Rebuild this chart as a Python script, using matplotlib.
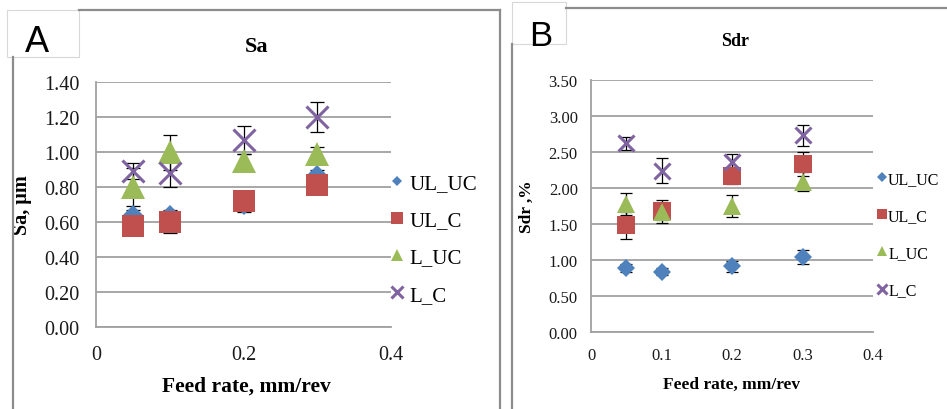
import numpy as np
import matplotlib
matplotlib.use("Agg")
import matplotlib.pyplot as plt
from matplotlib.lines import Line2D
from matplotlib.patches import Rectangle

# ---- data ----
feed = [0.05, 0.1, 0.2, 0.3]
series = ["UL_UC", "UL_C", "L_UC", "L_C"]

sa_vals = {
    "UL_UC": [0.64, 0.64, 0.70, 0.87],
    "UL_C": [0.58, 0.60, 0.72, 0.81],
    "L_UC": [0.80, 1.00, 0.95, 0.99],
    "L_C": [0.89, 0.88, 1.07, 1.20],
}
sa_err = {
    "UL_UC": [0.03, 0.03, 0.04, 0.03],
    "UL_C": [0.03, 0.06, 0.05, 0.03],
    "L_UC": [0.11, 0.10, 0.04, 0.04],
    "L_C": [0.045, 0.08, 0.08, 0.085],
}

sdr_vals = {
    "UL_UC": [0.89, 0.84, 0.91, 1.04],
    "UL_C": [1.48, 1.68, 2.17, 2.33],
    "L_UC": [1.78, 1.67, 1.75, 2.09],
    "L_C": [2.62, 2.24, 2.36, 2.73],
}
sdr_err = {
    "UL_UC": [0.05, 0.05, 0.07, 0.10],
    "UL_C": [0.19, 0.16, 0.12, 0.17],
    "L_UC": [0.15, 0.12, 0.15, 0.13],
    "L_C": [0.09, 0.17, 0.11, 0.15],
}

colors = {"UL_UC": "#4F81BD", "UL_C": "#C0504D", "L_UC": "#9BBB59", "L_C": "#8064A2"}
markers = {"UL_UC": "D", "UL_C": "s", "L_UC": "^", "L_C": "x"}

W, H = 947, 410
SERIF = "Liberation Serif"
SANS = "Liberation Sans"
GRID = "#A0A0A0"
FRAME = "#8C8C8C"


def box(l, t, r, b):
    return [l / W, 1 - b / H, (r - l) / W, (b - t) / H]


def fline(xs, ys, **kw):
    fig.add_artist(Line2D([x / W for x in xs], [1 - y / H for y in ys],
                          transform=fig.transFigure, **kw))


def draw_panel(ax, vals, errs, ms, ymax, ystep, xticks, fs):
    for i, s in enumerate(series):
        ax.errorbar(feed, vals[s], yerr=errs[s], fmt="none", ecolor="black",
                    elinewidth=0.9, capsize=fs["cap"], capthick=0.9, zorder=2.5)
        mew = 2.2 if markers[s] == "x" else 0
        ax.plot(feed, vals[s], linestyle="none", marker=markers[s],
                color=colors[s], ms=ms[s], mew=mew, label=s, zorder=3 + i)
    ax.set_xlim(0, 0.4)
    ax.set_ylim(0, ymax)
    ax.set_yticks(np.arange(0, ymax + 1e-9, ystep))
    ax.set_yticklabels(["%.2f" % v for v in np.arange(0, ymax + 1e-9, ystep)],
                       family=SERIF, fontsize=fs["tick"])
    ax.set_xticks(xticks)
    ax.set_xticklabels(["0" if v == 0 else "%g" % v for v in xticks],
                       family=SERIF, fontsize=fs["tick"])
    ax.tick_params(length=0, colors="#1a1a1a")
    ax.tick_params(axis="y", pad=fs["ypad"])
    ax.tick_params(axis="x", pad=fs["xpad"])
    ax.grid(axis="y", color=GRID, lw=1.3)
    ax.set_axisbelow(True)
    for sp in ["top", "right"]:
        ax.spines[sp].set_visible(False)
    for sp in ["left", "bottom"]:
        ax.spines[sp].set_color(GRID)
        ax.spines[sp].set_linewidth(1.3)


fig = plt.figure(figsize=(W / 100, H / 100), dpi=100)
fig.patch.set_facecolor("white")

# ---- panel A ----
axA = fig.add_axes(box(96, 83, 391, 328))
draw_panel(axA, sa_vals, sa_err,
           {"UL_UC": 10, "UL_C": 16, "L_UC": 17, "L_C": 15.5},
           1.4, 0.2, [0, 0.2, 0.4],
           {"tick": 14.5, "ypad": 12, "xpad": 13, "cap": 5})
axA.set_xlabel("Feed rate, mm/rev", family=SERIF, fontsize=15.5, fontweight="bold")
axA.xaxis.set_label_coords(0.51, -0.20)
axA.set_ylabel("Sa, µm", family=SERIF, fontsize=14.5, fontweight="bold")
axA.yaxis.set_label_coords(-0.217, 0.5)
fig.text(257 / W, 1 - 47 / H, "Sa", family=SERIF, fontsize=16, fontweight="bold",
         ha="center", va="center")
axA.legend(loc="center left", bbox_to_anchor=(378 / W, 1 - 240 / H),
           bbox_transform=fig.transFigure, frameon=False, borderpad=0,
           handlelength=0.8, handletextpad=0.2, labelspacing=0.85,
           markerscale=0.55, prop={"family": SERIF, "size": 15})

# ---- panel B ----
axB = fig.add_axes(box(591, 81, 873, 333))
draw_panel(axB, sdr_vals, sdr_err,
           {"UL_UC": 9, "UL_C": 12.5, "L_UC": 13, "L_C": 12},
           3.5, 0.5, [0, 0.1, 0.2, 0.3, 0.4],
           {"tick": 12, "ypad": 9.5, "xpad": 11, "cap": 4.5})
axB.set_xlabel("Feed rate, mm/rev", family=SERIF, fontsize=12.5, fontweight="bold")
axB.xaxis.set_label_coords(0.5, -0.175)
axB.set_ylabel("Sdr ,%", family=SERIF, fontsize=12.5, fontweight="bold")
axB.yaxis.set_label_coords(-0.199, 0.5)
fig.text(735 / W, 1 - 42 / H, "Sdr", family=SERIF, fontsize=13, fontweight="bold",
         ha="center", va="center")
axB.legend(loc="center left", bbox_to_anchor=(869 / W, 1 - 235.5 / H),
           bbox_transform=fig.transFigure, frameon=False, borderpad=0,
           handlelength=0.6, handletextpad=0.1, labelspacing=1.32,
           markerscale=0.6, prop={"family": SERIF, "size": 11.5})

# ---- panel frames and letter boxes ----
fline([13, 13], [58, 410], color=FRAME, lw=1.6)
fline([79, 500], [11, 11], color=FRAME, lw=1.6)
fline([500, 500], [11, 410], color=FRAME, lw=1.6)
fig.add_artist(Rectangle((7 / W, 1 - 58 / H), 72 / W, 47 / H, transform=fig.transFigure,
                         facecolor="white", edgecolor="#D8D8D8", lw=0.8))
fig.text(37 / W, 1 - 43 / H, "A", family=SANS, fontsize=26, ha="center", va="center")

fline([512, 512], [45, 410], color=FRAME, lw=1.6)
fline([566, 947], [9, 9], color=FRAME, lw=1.6)
fig.add_artist(Rectangle((512 / W, 1 - 45 / H), 54 / W, 42 / H, transform=fig.transFigure,
                         facecolor="white", edgecolor="#D8D8D8", lw=0.8))
fig.text(541 / W, 1 - 36 / H, "B", family=SANS, fontsize=25, ha="center", va="center")

fig.savefig("out.png", dpi=100)
